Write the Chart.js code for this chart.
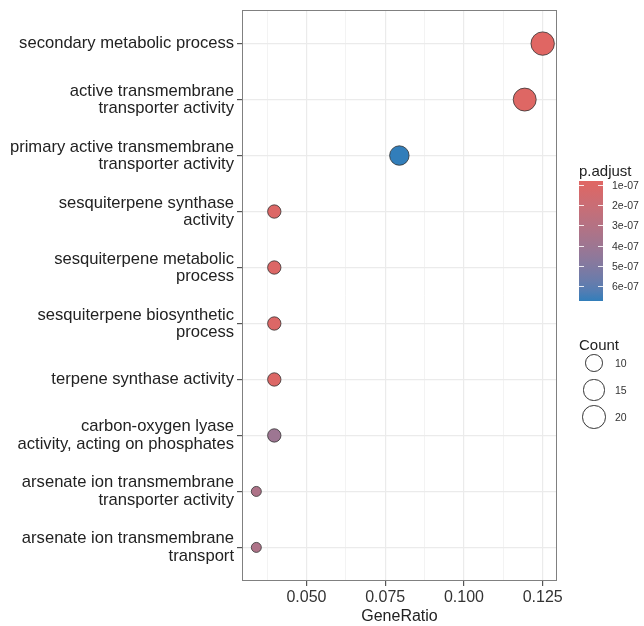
<!DOCTYPE html>
<html>
<head>
<meta charset="utf-8">
<script src="https://cdn.jsdelivr.net/npm/chart.js@4/dist/chart.umd.min.js"></script>
<style>
  html, body { margin: 0; padding: 0; background: #fff; }
  #wrap { position: relative; width: 644px; height: 626px; font-family: "Liberation Sans", Arial, sans-serif; color: #222; }
  #wrap canvas { position: absolute; left: 0; top: 0; }
  .lg { position: absolute; white-space: nowrap; }
  .lg-title { font-size: 15px; line-height: 15px; }
  .lg-lab { font-size: 10.5px; line-height: 11px; color: #333; }
  .cb-tick { position: absolute; height: 1px; width: 5px; background: rgba(255,255,255,0.85); }
  .key { position: absolute; border: 1px solid #333; border-radius: 50%; background: #fff; box-sizing: border-box; }
</style>
</head>
<body>
<div id="wrap">
  <canvas id="chart" width="644" height="626"></canvas>
</div>
<script>
// data (top to bottom)
const categories = [
  "secondary metabolic process",
  "active transmembrane\ntransporter activity",
  "primary active transmembrane\ntransporter activity",
  "sesquiterpene synthase\nactivity",
  "sesquiterpene metabolic\nprocess",
  "sesquiterpene biosynthetic\nprocess",
  "terpene synthase activity",
  "carbon-oxygen lyase\nactivity, acting on phosphates",
  "arsenate ion transmembrane\ntransporter activity",
  "arsenate ion transmembrane\ntransport"
];
const geneRatio = [0.125, 0.1193, 0.0795, 0.0398, 0.0398, 0.0398, 0.0398, 0.0398, 0.0341, 0.0341];
const counts = [22, 21, 14, 7, 7, 7, 7, 7, 6, 6];
const pAdjust = [0.8e-7, 0.9e-7, 6.7e-7, 1.0e-7, 1.0e-7, 1.0e-7, 1.0e-7, 4.0e-7, 3.3e-7, 3.3e-7];

const xMajor = [0.05, 0.075, 0.1, 0.125];
const xMinor = [0.0375, 0.0625, 0.0875, 0.1125];
const pTicks = [1e-7, 2e-7, 3e-7, 4e-7, 5e-7, 6e-7];
const pTickLabels = ["1e-07", "2e-07", "3e-07", "4e-07", "5e-07", "6e-07"];
const countKeys = [10, 15, 20];

const LOW = "#e06663", HIGH = "#327eba";
const pMin = Math.min(...pAdjust), pMax = Math.max(...pAdjust);
const cMin = Math.min(...counts), cMax = Math.max(...counts);

// ggplot-like colour ramp in Lab space
function hexToRgb(h) { return [1, 3, 5].map(i => parseInt(h.slice(i, i + 2), 16)); }
function toLin(c) { c /= 255; return c <= 0.04045 ? c / 12.92 : Math.pow((c + 0.055) / 1.055, 2.4); }
function fromLin(c) {
  c = c <= 0.0031308 ? 12.92 * c : 1.055 * Math.pow(c, 1 / 2.4) - 0.055;
  return Math.round(Math.max(0, Math.min(1, c)) * 255);
}
function rgbToLab(rgb) {
  const [r, g, b] = rgb.map(toLin);
  const x = (0.4124 * r + 0.3576 * g + 0.1805 * b) / 0.95047;
  const y = 0.2126 * r + 0.7152 * g + 0.0722 * b;
  const z = (0.0193 * r + 0.1192 * g + 0.9505 * b) / 1.08883;
  const f = t => t > 0.008856 ? Math.cbrt(t) : 7.787 * t + 16 / 116;
  const fx = f(x), fy = f(y), fz = f(z);
  return [116 * fy - 16, 500 * (fx - fy), 200 * (fy - fz)];
}
function labToRgb([L, a, b]) {
  const fy = (L + 16) / 116, fx = fy + a / 500, fz = fy - b / 200;
  const fi = t => t * t * t > 0.008856 ? t * t * t : (t - 16 / 116) / 7.787;
  const x = fi(fx) * 0.95047, y = fi(fy), z = fi(fz) * 1.08883;
  const r = 3.2406 * x - 1.5372 * y - 0.4986 * z;
  const g = -0.9689 * x + 1.8758 * y + 0.0415 * z;
  const bb = 0.0557 * x - 0.2040 * y + 1.0570 * z;
  return [r, g, bb].map(fromLin);
}
const labLow = rgbToLab(hexToRgb(LOW)), labHigh = rgbToLab(hexToRgb(HIGH));
function rampColor(t) {
  const lab = labLow.map((v, i) => v + (labHigh[i] - v) * t);
  const [r, g, b] = labToRgb(lab);
  return `rgb(${r},${g},${b})`;
}
const colorFor = p => rampColor((p - pMin) / (pMax - pMin));

// area palette like ggplot's scale_size
const R_MIN = 5.0, R_MAX = 11.7;
function radiusFor(c) {
  const t = Math.max(0, (c - cMin) / (cMax - cMin));
  return R_MIN + (R_MAX - R_MIN) * Math.sqrt(t);
}

const isMajor = v => xMajor.some(m => Math.abs(m - v) < 1e-9);

const points = categories.map((c, i) => ({ x: geneRatio[i], y: i, r: radiusFor(counts[i]) }));

const FONT = "'Liberation Sans', Arial, sans-serif";

const panelBox = {
  id: "panelBox",
  afterDraw(chart) {
    const { ctx, chartArea: a } = chart;
    ctx.save();
    ctx.strokeStyle = "#808080";
    ctx.lineWidth = 1;
    ctx.strokeRect(a.left + 0.5, a.top + 0.5, a.right - a.left - 1, a.bottom - a.top - 1);
    ctx.restore();
  }
};

new Chart(document.getElementById("chart"), {
  type: "bubble",
  data: {
    datasets: [{
      data: points,
      backgroundColor: pAdjust.map(colorFor),
      borderColor: "#333",
      borderWidth: 0.8,
      clip: false
    }]
  },
  options: {
    responsive: false,
    animation: false,
    events: [],
    layout: { autoPadding: false, padding: { left: 0, top: 10, right: 87, bottom: 0 } },
    plugins: { legend: { display: false }, tooltip: { enabled: false } },
    scales: {
      x: {
        type: "linear",
        min: 0.02955,
        max: 0.12955,
        afterBuildTicks: (s) => { s.ticks = [...xMinor, ...xMajor].sort((a, b) => a - b).map(v => ({ value: v })); },
        afterFit: (s) => { s.height = 45; s.paddingLeft = 0; s.paddingRight = 0; },
        ticks: {
          autoSkip: false,
          maxRotation: 0,
          padding: 2,
          color: "#333",
          font: { family: FONT, size: 16 },
          callback: (v) => isMajor(v) ? v.toFixed(3) : ""
        },
        grid: {
          color: "#ebebeb",
          lineWidth: (ctx) => ctx.tick && isMajor(ctx.tick.value) ? 1.2 : 0.6,
          tickLength: 5,
          tickColor: (ctx) => ctx.tick && isMajor(ctx.tick.value) ? "#555" : "rgba(0,0,0,0)"
        },
        border: { display: false },
        title: {
          display: true,
          text: "GeneRatio",
          color: "#222",
          font: { family: FONT, size: 16 },
          padding: { top: 0, bottom: 0 }
        }
      },
      y: {
        type: "linear",
        reverse: true,
        min: -0.6,
        max: categories.length - 1 + 0.6,
        afterBuildTicks: (s) => { s.ticks = categories.map((c, i) => ({ value: i })); },
        afterFit: (s) => { s.width = 242; s.paddingTop = 0; s.paddingBottom = 0; },
        ticks: {
          autoSkip: false,
          padding: 3,
          color: "#222",
          font: { family: FONT, size: 16.6, lineHeight: 1.03 },
          callback: (v) => categories[v] ? categories[v].split("\n") : ""
        },
        grid: { color: "#ebebeb", lineWidth: 1.2, tickLength: 5, tickColor: "#555" },
        border: { display: false }
      }
    }
  },
  plugins: [panelBox]
});

// legend (html)
const wrap = document.getElementById("wrap");
function add(html, cls, style) {
  const d = document.createElement("div");
  d.className = cls;
  d.innerHTML = html;
  Object.assign(d.style, style);
  wrap.appendChild(d);
  return d;
}
const CB_LEFT = 579, CB_TOP = 181, CB_W = 24, CB_H = 120;
add("p.adjust", "lg lg-title", { left: "579px", top: "163px" });
const stops = [];
for (let i = 0; i <= 12; i++) stops.push(`${rampColor(i / 12)} ${(i / 12 * 100).toFixed(1)}%`);
add("", "lg", {
  left: CB_LEFT + "px", top: CB_TOP + "px", width: CB_W + "px", height: CB_H + "px",
  background: `linear-gradient(to bottom, ${stops.join(",")})`
});
pTicks.forEach((p, i) => {
  const y = CB_TOP + (p - pMin) / (pMax - pMin) * CB_H;
  add("", "cb-tick", { left: CB_LEFT + "px", top: (y - 0.5) + "px" });
  add("", "cb-tick", { left: (CB_LEFT + CB_W - 5) + "px", top: (y - 0.5) + "px" });
  add(pTickLabels[i], "lg lg-lab", { left: "612px", top: (y - 5.5) + "px" });
});
add("Count", "lg lg-title", { left: "579px", top: "337px" });
countKeys.forEach((c, i) => {
  const cy = 363 + i * 27, r = radiusFor(c) + 0.5;
  add("", "key", { left: (594 - r) + "px", top: (cy - r) + "px", width: 2 * r + "px", height: 2 * r + "px" });
  add(String(c), "lg lg-lab", { left: "615px", top: (cy - 5.5) + "px" });
});
</script>
</body>
</html>
